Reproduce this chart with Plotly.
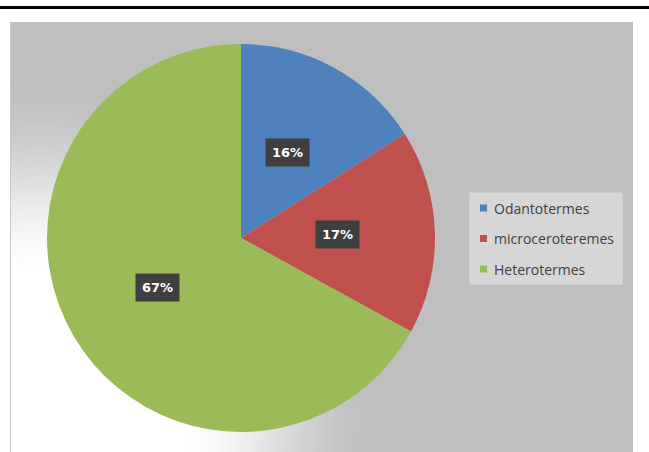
import math
import plotly.graph_objects as go

# ---- data ----
labels = ["Odantotermes", "microceroteremes", "Heterotermes"]
values = [16, 17, 67]
colors = ["#4F81BD", "#C0504D", "#9BBB59"]

W, H = 649, 452

# pie geometry (pixels)
pie_cx, pie_cy, pie_r = 241, 238, 194

def px(x):
    return x / W

def py(y):
    return 1 - y / H

fig = go.Figure()
fig.add_trace(go.Pie(
    labels=labels,
    values=values,
    marker=dict(colors=colors, line=dict(width=0)),
    sort=False,
    direction="clockwise",
    rotation=0,
    textinfo="none",
    hoverinfo="label+percent",
    showlegend=False,
    domain=dict(x=[px(pie_cx - pie_r), px(pie_cx + pie_r)],
                y=[py(pie_cy + pie_r), py(pie_cy - pie_r)]),
))

shapes = []
# gray chart area
area = dict(x0=10, x1=633, y0=22, y1=452)
shapes.append(dict(type="rect", xref="paper", yref="paper", layer="below",
                   x0=px(area["x0"]), x1=px(area["x1"]), y0=py(area["y1"]), y1=py(area["y0"]),
                   fillcolor="#BFBFBF", line=dict(width=0)))
# radial light gradient (bottom-left glow)
gcx, gcy = 40, 420
r_in, r_out = 140, 340
steps = 48
for i in range(steps + 1):
    r = r_out - (r_out - r_in) * i / steps
    t = (r_out - r) / (r_out - r_in)
    t = t * t * (3 - 2 * t)
    c = int(round(191 + (255 - 191) * t))
    shapes.append(dict(type="circle", xref="paper", yref="paper", layer="below",
                       xsizemode="pixel", ysizemode="pixel",
                       xanchor=px(gcx), yanchor=py(gcy),
                       x0=-r, x1=r, y0=-r, y1=r,
                       fillcolor=f"rgb({c},{c},{c})", line=dict(width=0)))
# white margins outside the chart area
shapes.append(dict(type="rect", xref="paper", yref="paper", layer="below",
                   x0=0, x1=px(area["x0"]), y0=0, y1=1,
                   fillcolor="white", line=dict(width=0)))
shapes.append(dict(type="rect", xref="paper", yref="paper", layer="below",
                   x0=px(area["x1"]), x1=1, y0=0, y1=1,
                   fillcolor="white", line=dict(width=0)))
# thin border of chart area
shapes.append(dict(type="line", xref="paper", yref="paper", layer="below",
                   x0=px(area["x0"] + 0.5), x1=px(area["x0"] + 0.5), y0=0, y1=py(area["y0"]),
                   line=dict(color="#C8C8C8", width=1)))
# top black rule
shapes.append(dict(type="rect", xref="paper", yref="paper", layer="above",
                   x0=0, x1=1, y0=py(9), y1=py(6),
                   fillcolor="black", line=dict(width=0)))

# legend box
leg = dict(x0=470, x1=622, y0=193, y1=284)
shapes.append(dict(type="rect", xref="paper", yref="paper", layer="below",
                   x0=px(leg["x0"]), x1=px(leg["x1"]), y0=py(leg["y1"]), y1=py(leg["y0"]),
                   fillcolor="#D6D6D6", line=dict(color="#DADADA", width=1)))

annotations = []
item_y0, item_dy = 208, 30.5
for i, (lab, col) in enumerate(zip(labels, colors)):
    yc = item_y0 + i * item_dy
    shapes.append(dict(type="rect", xref="paper", yref="paper", layer="above",
                       x0=px(480), x1=px(487), y0=py(yc + 3.5), y1=py(yc - 3.5),
                       fillcolor=col, line=dict(width=0)))
    annotations.append(dict(xref="paper", yref="paper", x=px(492), y=py(yc),
                            xanchor="left", yanchor="middle", showarrow=False,
                            text=lab, font=dict(family="Open Sans", size=14, color="#404040")))

# data labels in dark boxes at half radius
total = sum(values)
cum = 0
for v in values:
    mid = (cum + v / 2) / total * 2 * math.pi
    cum += v
    lx = pie_cx + 0.5 * pie_r * math.sin(mid)
    ly = pie_cy - 0.5 * pie_r * math.cos(mid)
    annotations.append(dict(xref="paper", yref="paper", x=px(lx), y=py(ly),
                            xanchor="center", yanchor="middle", showarrow=False,
                            text=f"<b>{round(v / total * 100)}%</b>",
                            font=dict(family="DejaVu Sans", size=13, color="white"),
                            bgcolor="#3F3F3F", borderpad=6))

fig.update_layout(
    width=W, height=H,
    margin=dict(l=0, r=0, t=0, b=0),
    paper_bgcolor="white",
    plot_bgcolor="white",
    shapes=shapes,
    annotations=annotations,
    showlegend=False,
)

fig.write_html("out.html")
